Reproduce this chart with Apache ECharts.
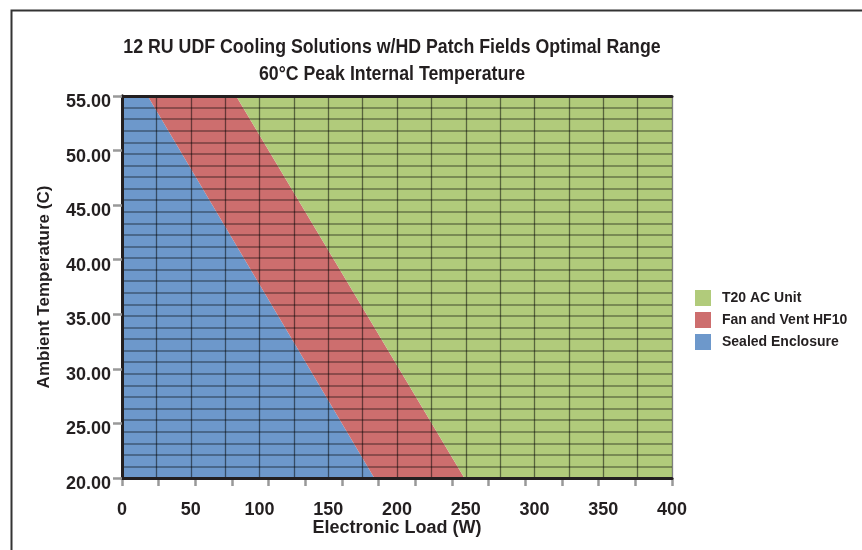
<!DOCTYPE html>
<html>
<head>
<meta charset="utf-8">
<script src="https://cdn.jsdelivr.net/npm/echarts@6/dist/echarts.min.js"></script>
<style>html,body{margin:0;padding:0;background:#fff}#c{width:862px;height:550px}</style>
</head>
<body>
<div id="c"></div>
<script>
// ---- data ----
const titleLines = ['12 RU UDF Cooling Solutions w/HD Patch Fields Optimal Range', '60°C Peak Internal Temperature'];
const xTitle = 'Electronic Load (W)';
const yTitle = 'Ambient Temperature (C)';
const loadRange = [0, 400];          // W
const tempRange = [20, 55];          // °C
const boundaryTemps = [55, 20];      // temperatures at which the boundaries are read
const sealedMaxLoad = [18.7, 183.5]; // Sealed Enclosure limit (W) at 55°C and 20°C
const fanVentMaxLoad = [83, 249];    // Fan and Vent HF10 limit (W) at 55°C and 20°C
const seriesNames = ['Sealed Enclosure', 'Fan and Vent HF10', 'T20 AC Unit'];
const seriesColors = ['#6d98cb', '#cd6e6e', '#b1cb7b'];
const legendOrder = ['T20 AC Unit', 'Fan and Vent HF10', 'Sealed Enclosure'];

// ---- region polygons in data units ----
const tTop = boundaryTemps[0], tBot = boundaryTemps[1];
const regions = [
  [[loadRange[0], tBot], [loadRange[0], tTop], [sealedMaxLoad[0], tTop], [sealedMaxLoad[1], tBot]],
  [[sealedMaxLoad[0], tTop], [fanVentMaxLoad[0], tTop], [fanVentMaxLoad[1], tBot], [sealedMaxLoad[1], tBot]],
  [[fanVentMaxLoad[0], tTop], [loadRange[1], tTop], [loadRange[1], tBot], [fanVentMaxLoad[1], tBot]]
];

const chart = echarts.init(document.getElementById('c'), null, {renderer: 'canvas'});
const border = {show: true, lineStyle: {color: '#231f20', width: 3}};
const font = 'Liberation Sans, Arial, sans-serif';

const series = regions.map((poly, i) => ({
  type: 'custom',
  name: seriesNames[i],
  xAxisIndex: 0, yAxisIndex: 0,
  itemStyle: {color: seriesColors[i]},
  data: poly,
  z: 2,
  renderItem: function (params, api) {
    if (params.dataIndex !== 0) return null;
    const pts = poly.map(p => api.coord(p));
    return {type: 'polygon', shape: {points: pts}, style: {fill: api.visual('color'), stroke: null}};
  }
}));

const titleStyle = (txt) => ({
  text: txt, textAlign: 'center', textVerticalAlign: 'middle',
  font: 'bold 21px "Liberation Sans", Arial, sans-serif', fill: '#231f20'
});

chart.setOption({
  animation: false,
  backgroundColor: '#fff',
  legend: {
    orient: 'vertical', left: 690, top: 285,
    itemWidth: 16, itemHeight: 16, itemGap: 6, icon: 'rect',
    data: legendOrder,
    textStyle: {fontFamily: font, fontWeight: 'bold', fontSize: 14, color: '#231f20', padding: [0, 0, 0, 6]}
  },
  graphic: [
    {type: 'polyline', silent: true,
     shape: {points: [[11.5, 550], [11.5, 10.5], [862, 10.5]]},
     style: {stroke: '#333', lineWidth: 2, fill: null}},
    {type: 'text', silent: true, x: 392, y: 47, scaleX: 0.845, style: titleStyle(titleLines[0])},
    {type: 'text', silent: true, x: 392, y: 74, scaleX: 0.845, style: titleStyle(titleLines[1])}
  ],
  grid: {left: 122, right: 190, top: 96, bottom: 72},
  xAxis: [
    {type: 'value', position: 'bottom', min: loadRange[0], max: loadRange[1], interval: 50, z: 10,
     name: xTitle, nameLocation: 'middle', nameGap: 41, nameMoveOverlap: false,
     nameTextStyle: {fontFamily: font, fontWeight: 'bold', fontSize: 18, color: '#231f20'},
     axisLine: border, axisTick: {show: false}, splitLine: {show: false},
     axisLabel: {margin: 23, fontFamily: font, fontWeight: 'bold', fontSize: 18, color: '#231f20'}},
    {type: 'value', position: 'bottom', min: 0, max: 15, interval: 1, z: 9,
     axisLine: {show: false}, axisLabel: {show: false}, splitLine: {show: false},
     axisTick: {show: true, inside: false, length: 8, lineStyle: {color: '#999', width: 2.5}}},
    {type: 'value', position: 'top', min: loadRange[0], max: loadRange[1], interval: 25, z: 10,
     axisLine: border, axisLabel: {show: false}, axisTick: {show: false},
     splitLine: {show: true, lineStyle: {color: 'rgba(0,0,0,0.5)', width: 1.3}}}
  ],
  yAxis: [
    {type: 'value', position: 'left', min: tempRange[0], max: tempRange[1], interval: 5, z: 10,
     name: yTitle, nameLocation: 'middle', nameGap: 69, nameMoveOverlap: false,
     nameTextStyle: {fontFamily: font, fontWeight: 'bold', fontSize: 17, color: '#231f20'},
     axisLine: border, splitLine: {show: false},
     axisTick: {show: true, length: 9, lineStyle: {color: '#999', width: 2.5}},
     axisLabel: {margin: 11, fontFamily: font, fontWeight: 'bold', fontSize: 18, color: '#231f20',
                 verticalAlign: 'top', lineHeight: 12, formatter: v => v.toFixed(2)}},
    {type: 'value', position: 'right', min: 0, max: 33, interval: 1, z: 10,
     axisLine: border, axisLabel: {show: false}, axisTick: {show: false},
     splitLine: {show: true, lineStyle: {color: 'rgba(0,0,0,0.42)', width: 1.6}}}
  ],
  series: series
});
</script>
</body>
</html>
